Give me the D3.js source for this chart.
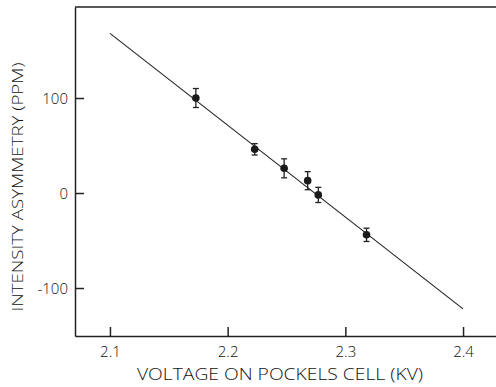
<!DOCTYPE html>
<head>
  <meta charset="utf-8">
  <script src="https://d3js.org/d3.v7.min.js"></script>
  <style>
    body { margin:0; background:#fff; }
    text { font-family: "Open Sans", "Liberation Sans", sans-serif; font-weight: 300; fill: #111; }
    .axis path, .axis line { fill: none; stroke: #222; stroke-width: 1.5px; }
  </style>
</head>
<body>
  <script>
    // measured points (kV, ppm) with error half-widths
    var voltage = [2.173, 2.223, 2.248, 2.268, 2.277, 2.318];
    var asym    = [100, 46, 26, 13, -2, -44];
    var errBar  = [10, 6, 10, 9.5, 8, 7];
    // fitted line end points
    var fitX = [2.1, 2.4];
    var fitY = [168, -122];
    var xTicks = [2.1, 2.2, 2.3, 2.4];
    var yTicks = [100, 0, -100];

    var margin = {top: 7, right: 0, bottom: 51, left: 75},
        width = 496 - margin.left - margin.right,
        height = 387 - margin.top - margin.bottom;

    var svg = d3.select("body").append("svg")
        .attr("width", 496)
        .attr("height", 387)
      .append("g")
        .attr("transform", "translate(" + margin.left + "," + margin.top + ")");

    var x = d3.scaleLinear().domain([2.0703, 2.428]).range([0, width]);
    var y = d3.scaleLinear().domain([-150.5, 195.8]).range([height, 0]);

    var xAxis = d3.axisBottom(x).tickValues(xTicks).tickSizeInner(-9).tickSizeOuter(0)
        .tickPadding(10).tickFormat(d3.format(".1f"));
    // plain hyphen for negatives, as in the original
    var yAxis = d3.axisLeft(y).tickValues(yTicks).tickSizeInner(-9).tickSizeOuter(0)
        .tickPadding(7).tickFormat(d => String(d));

    svg.append("g")
        .attr("class", "x axis")
        .attr("transform", "translate(0," + height + ")")
        .call(xAxis)
        .selectAll("text").style("font-size", "15px");
    svg.append("g")
        .attr("class", "y axis")
        .call(yAxis)
        .selectAll("text").style("font-size", "15px").attr("dy", "0.35em");

    // top frame
    svg.append("line")
        .attr("x1", 0).attr("x2", width).attr("y1", 0).attr("y2", 0)
        .attr("stroke", "#222").attr("stroke-width", 1.5);

    // fit line
    svg.append("path")
        .datum(fitX.map((v, i) => [v, fitY[i]]))
        .attr("fill", "none").attr("stroke", "#222").attr("stroke-width", 1.1)
        .attr("d", d3.line().x(d => x(d[0])).y(d => y(d[1])));

    var pts = voltage.map((v, i) => ({v: v, a: asym[i], e: errBar[i]}));

    var g = svg.selectAll(".pt").data(pts).enter().append("g").attr("class", "pt");
    g.append("line")
        .attr("x1", d => x(d.v)).attr("x2", d => x(d.v))
        .attr("y1", d => y(d.a + d.e)).attr("y2", d => y(d.a - d.e))
        .attr("stroke", "#222").attr("stroke-width", 1.3);
    g.selectAll(".cap").data(d => [[d.v, d.a + d.e], [d.v, d.a - d.e]])
        .enter().append("line").attr("class", "cap")
        .attr("x1", d => x(d[0]) - 3).attr("x2", d => x(d[0]) + 3)
        .attr("y1", d => y(d[1])).attr("y2", d => y(d[1]))
        .attr("stroke", "#222").attr("stroke-width", 1.3);
    g.append("circle")
        .attr("cx", d => x(d.v)).attr("cy", d => y(d.a)).attr("r", 3.8)
        .attr("fill", "#1a1a1a");

    // axis titles
    svg.append("text")
        .attr("x", 205).attr("y", height + 44)
        .attr("text-anchor", "middle")
        .attr("textLength", 286).attr("lengthAdjust", "spacingAndGlyphs")
        .style("font-size", "16px")
        .text("VOLTAGE ON POCKELS CELL (KV)");
    svg.append("text")
        .attr("transform", "translate(-52," + (187 - margin.top) + ") rotate(-90)")
        .attr("text-anchor", "middle")
        .attr("textLength", 249).attr("lengthAdjust", "spacingAndGlyphs")
        .style("font-size", "15px")
        .text("INTENSITY ASYMMETRY (PPM)");
  </script>
</body>
